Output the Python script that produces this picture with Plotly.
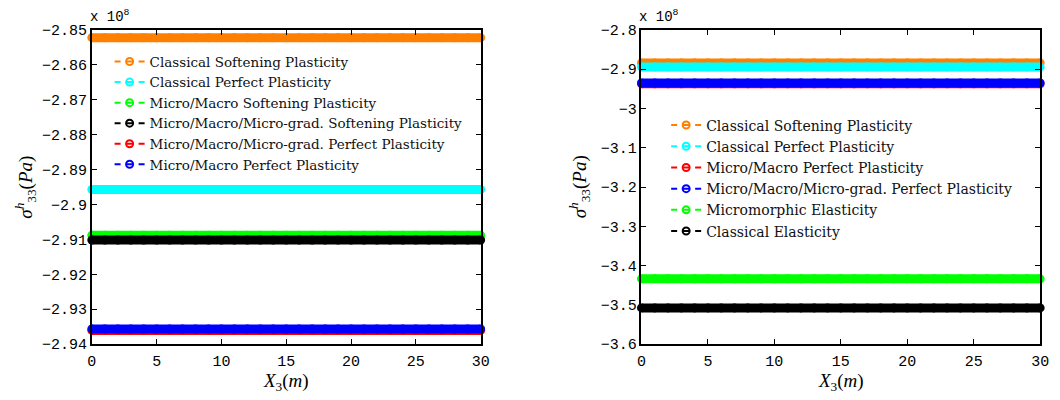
import plotly.graph_objects as go

W, H = 1060, 400

# ---- data ----
x_nodes = list(range(0, 31))  # mesh nodes along X3 (m)

left_names = ["Classical Softening Plasticity", "Classical Perfect Plasticity",
              "Micro/Macro Softening Plasticity", "Micro/Macro/Micro-grad. Softening Plasticity",
              "Micro/Macro/Micro-grad. Perfect Plasticity", "Micro/Macro Perfect Plasticity"]
left_values = [-2.8522e8, -2.8957e8, -2.9088e8, -2.9102e8, -2.9361e8, -2.9357e8]
left_colors = ["#FF8000", "#00FFFF", "#00FF00", "#000000", "#FF0000", "#0000FF"]

right_names = ["Classical Softening Plasticity", "Classical Perfect Plasticity",
               "Micro/Macro Perfect Plasticity", "Micro/Macro/Micro-grad. Perfect Plasticity",
               "Micromorphic Elasticity", "Classical Elasticity"]
right_values = [-2.884e8, -2.894e8, -2.937e8, -2.935e8, -3.434e8, -3.508e8]
right_colors = ["#FF8000", "#00FFFF", "#FF0000", "#0000FF", "#00FF00", "#000000"]

x_ticks = [0, 5, 10, 15, 20, 25, 30]
left_yticks = [-2.85, -2.86, -2.87, -2.88, -2.89, -2.9, -2.91, -2.92, -2.93, -2.94]
left_yticklabels = ["\u22122.85", "\u22122.86", "\u22122.87", "\u22122.88", "\u22122.89",
                    "\u22122.9", "\u22122.91", "\u22122.92", "\u22122.93", "\u22122.94"]
right_yticks = [-2.8, -2.9, -3.0, -3.1, -3.2, -3.3, -3.4, -3.5, -3.6]
right_yticklabels = ["\u22122.8", "\u22122.9", "\u22123", "\u22123.1", "\u22123.2",
                     "\u22123.3", "\u22123.4", "\u22123.5", "\u22123.6"]
scale = 1e8

# ---- layout geometry (pixels) ----
LX0, LX1 = 88, 482
RX0, RX1 = 645, 1049
YT, YB = 24, 352

def px(x):
    return x / W

def py(y):
    return 1 - y / H

fig = go.Figure()

def add_panel(names, values, colors, xa, ya, legend):
    for n, v, c in zip(names, values, colors):
        fig.add_trace(go.Scatter(
            x=x_nodes, y=[v / scale] * len(x_nodes), xaxis=xa, yaxis=ya,
            mode="lines+markers", line=dict(color=c, width=9),
            marker=dict(color=c, size=9, symbol="circle", line=dict(width=0)), cliponaxis=False,
            showlegend=False, hoverinfo="skip"))
    for n, c in zip(names, colors):
        fig.add_trace(go.Scatter(
            x=[None], y=[None], xaxis=xa, yaxis=ya, name=n,
            mode="lines+markers", line=dict(color=c, width=2, dash="6px,5.5px,7px,5.5px,6px"),
            marker=dict(color=c, size=7, symbol="circle-open", line=dict(width=2)),
            legend=legend))

add_panel(left_names, left_values, left_colors, "x", "y", "legend")
add_panel(right_names, right_values, right_colors, "x2", "y2", "legend2")

MONO = "'Liberation Mono', 'Courier New', Courier, monospace"
SERIF = "'DejaVu Serif', serif"
tickfont = dict(family=MONO, size=15, color="black")
ax_common = dict(showline=True, linecolor="black", linewidth=1.5, mirror="ticks",
                 ticks="inside", ticklen=5, tickwidth=1, tickcolor="black",
                 showgrid=False, zeroline=False, tickfont=tickfont)

legfont = dict(family=SERIF, size=13.5, color="#111")

fig.update_layout(
    width=W, height=H, margin=dict(l=0, r=0, t=0, b=0),
    paper_bgcolor="white", plot_bgcolor="white",
    xaxis=dict(domain=[px(LX0), px(LX1)], range=[0, 30], tickvals=x_ticks, anchor="y",
               ticklabelstandoff=2, **ax_common),
    yaxis=dict(domain=[py(YB), py(YT)], range=[-2.94, -2.85], tickvals=left_yticks,
               ticktext=left_yticklabels, anchor="x", **ax_common),
    xaxis2=dict(domain=[px(RX0), px(RX1)], range=[0, 30], tickvals=x_ticks, anchor="y2",
                ticklabelstandoff=2, **ax_common),
    yaxis2=dict(domain=[py(YB), py(YT)], range=[-3.6, -2.8], tickvals=right_yticks,
                ticktext=right_yticklabels, anchor="x2", **ax_common),
    legend=dict(x=px(106), y=py(41), xanchor="left", yanchor="top", bgcolor="rgba(0,0,0,0)",
                font=legfont, tracegroupgap=0, itemwidth=30),
    legend2=dict(x=px(670), y=py(107), xanchor="left", yanchor="top", bgcolor="rgba(0,0,0,0)",
                 font=dict(family=SERIF, size=14, color="#111"), tracegroupgap=0, itemwidth=30),
)

annots = []
for x0 in (LX0, RX0):
    annots.append(dict(x=px(x0), y=py(21), xref="paper", yref="paper", xanchor="left", yanchor="bottom",
                       text="x 10<sup>8</sup>", showarrow=False, xshift=-4,
                       font=dict(family=MONO, size=14, color="black")))
for x0, x1 in ((LX0, LX1), (RX0, RX1)):
    annots.append(dict(x=px((x0 + x1) / 2), y=py(392), xref="paper", yref="paper",
                       xanchor="center", yanchor="middle",
                       text="<i>X</i><sub>3</sub>(<i>m</i>)", showarrow=False,
                       font=dict(family="'Liberation Serif', serif", size=19, color="black")))
for xt in (20, 582):
    annots.append(dict(x=px(xt), y=py((YT + YB) / 2), xref="paper", yref="paper",
                       xanchor="center", yanchor="middle", textangle=-90,
                       text="<i>\u03c3</i><sup><i>h</i></sup><sub>33</sub>(<i>Pa</i>)", showarrow=False,
                       font=dict(family="'Liberation Serif', serif", size=19, color="black")))
fig.update_layout(annotations=annots)

fig.write_html("out.html")
